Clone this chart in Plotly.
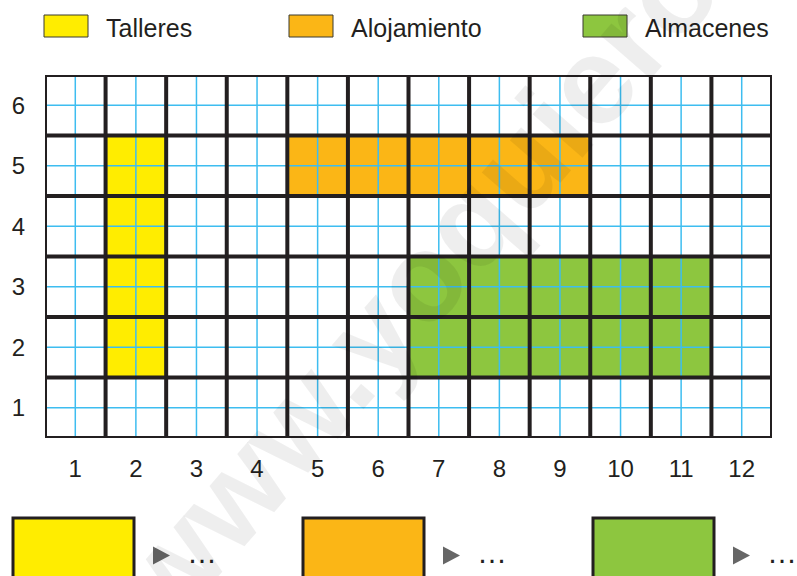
import plotly.graph_objects as go

# ---------------- data ----------------
categories = ["Talleres", "Alojamiento", "Almacenes"]
cat_colors = ["#FFED00", "#FBB616", "#8DC63F"]
talleres_cols = [2]
talleres_rows = [2, 3, 4, 5]
alojamiento_cols = [5, 6, 7, 8, 9]
alojamiento_rows = [5]
almacenes_cols = [7, 8, 9, 10, 11]
almacenes_rows = [2, 3]
x_ticks = list(range(1, 13))
y_ticks = list(range(1, 7))
watermark = "www.yoquieroaprobar.es"

W, H = 797, 576
BLACK = "#231F20"
BLUE = "#3DBDF0"


def px(x):
    return x / W


def py(y):
    return 1 - y / H


# grid values
z = [[0 for _ in x_ticks] for _ in y_ticks]
for val, (cols, rows) in enumerate(
    [(talleres_cols, talleres_rows), (alojamiento_cols, alojamiento_rows), (almacenes_cols, almacenes_rows)],
    start=1,
):
    for r in rows:
        for c in cols:
            z[r - 1][c - 1] = val

colorscale = [
    [0.0, "#FFFFFF"], [0.125, "#FFFFFF"],
    [0.125, cat_colors[0]], [0.5, cat_colors[0]],
    [0.5, cat_colors[1]], [0.875, cat_colors[1]],
    [0.875, cat_colors[2]], [1.0, cat_colors[2]],
]

fig = go.Figure()
fig.add_trace(go.Heatmap(
    x=x_ticks, y=y_ticks, z=z, zmin=0, zmax=3,
    colorscale=colorscale, showscale=False, hoverinfo="skip", xgap=0, ygap=0,
))

shapes = []
xmin, xmax = x_ticks[0] - 0.5, x_ticks[-1] + 0.5
ymin, ymax = y_ticks[0] - 0.5, y_ticks[-1] + 0.5
# thin blue lines at cell centres
for xv in x_ticks:
    shapes.append(dict(type="line", xref="x", yref="y", x0=xv, x1=xv, y0=ymin, y1=ymax,
                       line=dict(color=BLUE, width=1.5)))
for yv in y_ticks:
    shapes.append(dict(type="line", xref="x", yref="y", x0=xmin, x1=xmax, y0=yv, y1=yv,
                       line=dict(color=BLUE, width=1.5)))
# thick black lines at cell borders
for i in range(1, len(x_ticks)):
    xv = x_ticks[i] - 0.5
    shapes.append(dict(type="line", xref="x", yref="y", x0=xv, x1=xv, y0=ymin, y1=ymax,
                       line=dict(color=BLACK, width=4)))
for i in range(1, len(y_ticks)):
    yv = y_ticks[i] - 0.5
    shapes.append(dict(type="line", xref="x", yref="y", x0=xmin, x1=xmax, y0=yv, y1=yv,
                       line=dict(color=BLACK, width=4)))
shapes.append(dict(type="rect", xref="x", yref="y", x0=xmin, x1=xmax, y0=ymin, y1=ymax,
                   line=dict(color=BLACK, width=4)))

annotations = []
# top legend
leg_box_x = [44, 289, 583]
leg_text_x = [104, 349, 643]
for i, name in enumerate(categories):
    shapes.append(dict(type="rect", xref="paper", yref="paper",
                       x0=px(leg_box_x[i]), x1=px(leg_box_x[i] + 44), y0=py(37), y1=py(15),
                       fillcolor=cat_colors[i], line=dict(color="#3a3a30", width=1)))
    annotations.append(dict(xref="paper", yref="paper", x=px(leg_text_x[i]), y=py(28),
                            xanchor="left", yanchor="middle", showarrow=False, text=name,
                            font=dict(family="Liberation Sans", size=25, color=BLACK)))

# bottom boxes with arrows
box_x = [13, 303, 593]
for i in range(3):
    bx = box_x[i]
    shapes.append(dict(type="rect", xref="paper", yref="paper",
                       x0=px(bx), x1=px(bx + 121), y0=py(590), y1=py(518),
                       fillcolor=cat_colors[i], line=dict(color=BLACK, width=3)))
    tx = bx + 140
    path = f"M {px(tx)},{py(546.5)} L {px(tx + 17)},{py(555.5)} L {px(tx)},{py(564.5)} Z"
    shapes.append(dict(type="path", xref="paper", yref="paper", path=path,
                       fillcolor="#666666", line=dict(width=0)))
    annotations.append(dict(xref="paper", yref="paper", x=px(bx + 189), y=py(552),
                            xanchor="center", yanchor="middle", showarrow=False, text="…",
                            font=dict(family="Liberation Sans", size=30, color=BLACK)))

# watermark
annotations.append(dict(xref="paper", yref="paper", x=px(622), y=py(45),
                        xanchor="center", yanchor="middle", showarrow=False, text=watermark,
                        textangle=-49,
                        font=dict(family="Liberation Sans", size=125, color="rgba(0,0,0,0.065)",
                                  weight="bold")))

fig.update_layout(
    width=W, height=H,
    margin=dict(l=0, r=0, t=0, b=0),
    paper_bgcolor="white", plot_bgcolor="white",
    shapes=shapes, annotations=annotations,
    showlegend=False,
    xaxis=dict(domain=[px(45), px(772)], range=[xmin, xmax], tickvals=x_ticks,
               ticktext=[str(v) for v in x_ticks], showgrid=False, zeroline=False,
               showline=False, ticks="", ticklabelstandoff=14, fixedrange=True,
               tickfont=dict(family="Liberation Sans", size=24, color=BLACK)),
    yaxis=dict(domain=[py(438), py(75)], range=[ymin, ymax], tickvals=y_ticks,
               ticktext=[str(v) for v in y_ticks], showgrid=False, zeroline=False,
               showline=False, ticks="", ticklabelstandoff=19, fixedrange=True,
               tickfont=dict(family="Liberation Sans", size=24, color=BLACK)),
)

fig.write_html("out.html", config={"displayModeBar": False},
               post_script="document.body.style.margin='0';")
